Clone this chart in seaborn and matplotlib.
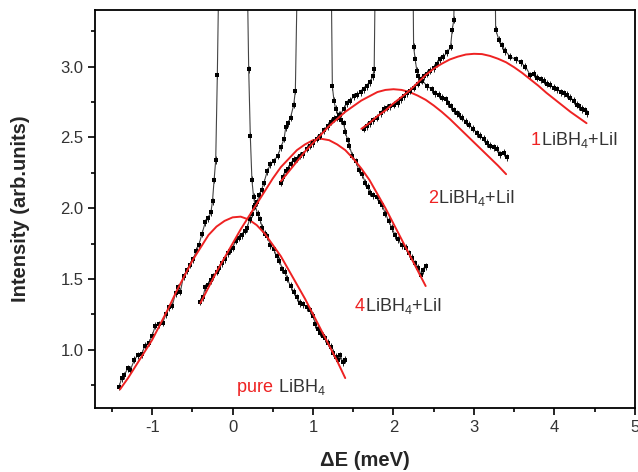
import numpy as np
import pandas as pd
import seaborn as sns
import matplotlib
matplotlib.use("Agg")
import matplotlib.pyplot as plt

sns.set_style("ticks")
plt.rcParams['font.family'] = ['Liberation Sans', 'DejaVu Sans']
plt.rcParams['mathtext.fontset'] = 'custom'
plt.rcParams['mathtext.rm'] = 'Liberation Sans'

# measured spectra (black points); the big values are the elastic peak, off scale
pure_x = [-1.41, -1.38, -1.35, -1.30, -1.27, -1.22, -1.18, -1.13, -1.09, -1.04, -1.00, -0.96,
          -0.92, -0.87, -0.83, -0.79, -0.75, -0.71, -0.68, -0.65, -0.61, -0.57, -0.53, -0.49,
          -0.45, -0.42, -0.38, -0.34, -0.30, -0.27, -0.25, -0.23, -0.21, -0.19, -0.15, 0.00,
          0.16, 0.20, 0.22, 0.24, 0.26, 0.28, 0.31, 0.34, 0.37, 0.40, 0.43, 0.47, 0.51, 0.55,
          0.58, 0.62, 0.65, 0.68, 0.72, 0.76, 0.80, 0.84, 0.88, 0.92, 0.96, 1.00, 1.03, 1.06,
          1.09, 1.12, 1.15, 1.18, 1.22, 1.25, 1.28, 1.31, 1.34, 1.37, 1.40]
pure_y = [0.74, 0.80, 0.82, 0.87, 0.86, 0.93, 0.96, 0.97, 1.03, 1.05, 1.10, 1.17,
          1.18, 1.19, 1.25, 1.30, 1.31, 1.40, 1.44, 1.41, 1.52, 1.56, 1.60, 1.64,
          1.70, 1.74, 1.82, 1.90, 1.93, 1.97, 2.05, 2.20, 2.34, 2.94, 4.5, 20.0,
          4.5, 2.98, 2.51, 2.20, 2.08, 2.02, 1.96, 1.92, 1.86, 1.82, 1.80, 1.74, 1.71, 1.66,
          1.63, 1.57, 1.55, 1.50, 1.45, 1.41, 1.37, 1.33, 1.32, 1.30, 1.28, 1.24, 1.18, 1.15,
          1.12, 1.10, 1.08, 1.05, 1.02, 0.98, 0.95, 0.93, 0.96, 0.91, 0.93]

r4_x = [-0.40, -0.37, -0.34, -0.30, -0.27, -0.24, -0.20, -0.17, -0.13, -0.10, -0.06, -0.03,
        0.00, 0.04, 0.08, 0.12, 0.15, 0.18, 0.21, 0.24, 0.27, 0.30, 0.33, 0.36, 0.39, 0.43,
        0.47, 0.51, 0.56, 0.60, 0.64, 0.66, 0.69, 0.72, 0.76, 0.78, 0.83, 1.02, 1.21, 1.24,
        1.26, 1.28, 1.32, 1.35, 1.38, 1.40, 1.43, 1.45, 1.49, 1.53, 1.57, 1.61, 1.65, 1.68,
        1.71, 1.75, 1.80, 1.83, 1.86, 1.90, 1.94, 1.98, 2.02, 2.06, 2.10, 2.15, 2.19, 2.23,
        2.27, 2.31, 2.34, 2.37, 2.41]
r4_y = [1.34, 1.37, 1.44, 1.46, 1.49, 1.52, 1.55, 1.58, 1.61, 1.64, 1.68, 1.70,
        1.72, 1.77, 1.79, 1.81, 1.84, 1.86, 1.92, 1.96, 2.01, 2.04, 2.09, 2.13, 2.18, 2.26,
        2.31, 2.33, 2.37, 2.43, 2.49, 2.57, 2.60, 2.64, 2.73, 2.83, 4.5, 20.0, 4.5, 2.86,
        2.76, 2.70, 2.66, 2.62, 2.60, 2.54, 2.48, 2.44, 2.37, 2.33, 2.27, 2.24, 2.18, 2.15,
        2.11, 2.09, 2.08, 2.04, 2.02, 1.96, 1.91, 1.86, 1.81, 1.78, 1.74, 1.72, 1.68, 1.65,
        1.61, 1.58, 1.53, 1.56, 1.59]

r2_x = [0.60, 0.63, 0.66, 0.69, 0.72, 0.76, 0.80, 0.84, 0.88, 0.92, 0.96, 1.00, 1.05, 1.09,
        1.13, 1.18, 1.22, 1.26, 1.30, 1.34, 1.38, 1.42, 1.46, 1.51, 1.55, 1.59, 1.63, 1.67,
        1.71, 1.74, 1.76, 1.79, 2.00, 2.23, 2.25, 2.27, 2.29, 2.31, 2.36, 2.42, 2.48, 2.52,
        2.56, 2.60, 2.65, 2.68, 2.71, 2.75, 2.79, 2.82, 2.85, 2.90, 2.94, 2.99, 3.04, 3.08,
        3.12, 3.16, 3.20, 3.25, 3.29, 3.33, 3.37, 3.41]
r2_y = [2.18, 2.22, 2.26, 2.28, 2.31, 2.34, 2.35, 2.37, 2.38, 2.42, 2.44, 2.46, 2.49, 2.51,
        2.55, 2.58, 2.61, 2.63, 2.64, 2.66, 2.70, 2.74, 2.76, 2.79, 2.80, 2.82, 2.84, 2.86,
        2.89, 2.93, 2.98, 4.5, 20.0, 4.5, 3.14, 3.05, 2.97, 2.93, 2.90, 2.86, 2.84, 2.81,
        2.80, 2.78, 2.77, 2.74, 2.72, 2.69, 2.67, 2.66, 2.64, 2.61, 2.59, 2.56, 2.53, 2.51,
        2.49, 2.46, 2.44, 2.43, 2.42, 2.38, 2.39, 2.36]

r1_x = [1.63, 1.67, 1.71, 1.75, 1.80, 1.84, 1.88, 1.92, 1.96, 2.01, 2.05, 2.09, 2.13, 2.17,
        2.21, 2.25, 2.30, 2.34, 2.38, 2.42, 2.46, 2.50, 2.54, 2.58, 2.62, 2.67, 2.71, 2.73,
        2.75, 2.78, 3.00, 3.25, 3.27, 3.31, 3.35, 3.39, 3.45, 3.52, 3.58, 3.64, 3.70, 3.75,
        3.79, 3.83, 3.87, 3.91, 3.95, 3.99, 4.03, 4.08, 4.12, 4.16, 4.20, 4.24, 4.28, 4.31,
        4.34, 4.38, 4.41]
r1_y = [2.56, 2.58, 2.60, 2.62, 2.64, 2.67, 2.70, 2.71, 2.72, 2.73, 2.74, 2.77, 2.79, 2.81,
        2.83, 2.85, 2.88, 2.91, 2.93, 2.95, 2.97, 2.99, 3.02, 3.05, 3.07, 3.10, 3.14, 3.26,
        3.33, 4.5, 20.0, 4.5, 3.26, 3.19, 3.15, 3.11, 3.07, 3.05, 3.03, 3.00, 2.94, 2.95,
        2.92, 2.91, 2.90, 2.88, 2.87, 2.85, 2.84, 2.82, 2.81, 2.80, 2.78, 2.76, 2.73, 2.72,
        2.70, 2.69, 2.67]

err = 0.025

# fitted curves (red), read every 0.1 meV
fit_pure_x = [-1.4, -1.3, -1.2, -1.1, -1.0, -0.9, -0.8, -0.7, -0.6, -0.5, -0.4, -0.3, -0.2, -0.1,
              0.0, 0.1, 0.2, 0.3, 0.4, 0.5, 0.6, 0.7, 0.8, 0.9, 1.0, 1.1, 1.2, 1.3, 1.4]
fit_pure_y = [0.72, 0.80, 0.89, 0.98, 1.07, 1.18, 1.29, 1.41, 1.52, 1.63, 1.72, 1.81, 1.87, 1.91,
              1.935, 1.94, 1.92, 1.88, 1.82, 1.74, 1.66, 1.56, 1.46, 1.36, 1.25, 1.14, 1.03, 0.92, 0.80]
fit4_x = [-0.4, -0.3, -0.2, -0.1, 0.0, 0.1, 0.2, 0.3, 0.4, 0.5, 0.6, 0.7, 0.8, 0.9,
          1.0, 1.1, 1.2, 1.3, 1.4, 1.5, 1.6, 1.7, 1.8, 1.9, 2.0, 2.1, 2.2, 2.3, 2.4]
fit4_y = [1.33, 1.44, 1.55, 1.65, 1.75, 1.85, 1.94, 2.03, 2.12, 2.21, 2.29, 2.35, 2.41, 2.45,
          2.48, 2.49, 2.48, 2.45, 2.41, 2.35, 2.28, 2.20, 2.10, 2.00, 1.89, 1.78, 1.67, 1.56, 1.45]
fit2_x = [0.6, 0.7, 0.8, 0.9, 1.0, 1.1, 1.2, 1.3, 1.4, 1.5, 1.6, 1.7, 1.8, 1.9,
          2.0, 2.1, 2.2, 2.3, 2.4, 2.5, 2.6, 2.7, 2.8, 2.9, 3.0, 3.1, 3.2, 3.3, 3.4]
fit2_y = [2.19, 2.26, 2.33, 2.40, 2.46, 2.52, 2.58, 2.63, 2.68, 2.72, 2.76, 2.79, 2.82, 2.835,
          2.84, 2.835, 2.82, 2.795, 2.765, 2.725, 2.68, 2.63, 2.575, 2.52, 2.465, 2.41, 2.355, 2.30, 2.24]
fit1_x = [1.6, 1.7, 1.8, 1.9, 2.0, 2.1, 2.2, 2.3, 2.4, 2.5, 2.6, 2.7, 2.8, 2.9,
          3.0, 3.1, 3.2, 3.3, 3.4, 3.5, 3.6, 3.7, 3.8, 3.9, 4.0, 4.1, 4.2, 4.3, 4.4]
fit1_y = [2.56, 2.60, 2.65, 2.69, 2.74, 2.785, 2.83, 2.885, 2.94, 2.985, 3.02, 3.05, 3.07, 3.085,
          3.09, 3.088, 3.075, 3.055, 3.03, 2.995, 2.955, 2.91, 2.865, 2.815, 2.77, 2.725, 2.68, 2.64, 2.60]

labels = ["pure ", "4", "2", "1"]
label_pos = [(0.06, 0.705), (1.52, 1.275), (2.43, 2.035), (3.71, 2.445)]

red = '#ee2222'
dark = '#333333'

fig = plt.figure(figsize=(6.38, 4.72), dpi=100)
ax = fig.add_axes([0.149, 0.136, 0.846, 0.843])

data = [(pure_x, pure_y), (r4_x, r4_y), (r2_x, r2_y), (r1_x, r1_y)]
fits = [(fit_pure_x, fit_pure_y), (fit4_x, fit4_y), (fit2_x, fit2_y), (fit1_x, fit1_y)]

for (x, y), (fx, fy) in zip(data, fits):
    ax.errorbar(x, y, yerr=err, fmt='none', ecolor='black', elinewidth=0.6, capsize=0)
    sns.lineplot(x=x, y=y, ax=ax, color='#444444', lw=0.8, marker='s', markersize=2.6,
                 markeredgewidth=0, markerfacecolor='black', estimator=None, sort=False)
    sns.lineplot(x=fx, y=fy, ax=ax, color=red, lw=1.4, estimator=None, sort=False)

ax.set_xlim(-1.71, 5.0)
ax.set_ylim(0.59, 3.40)

renderer = fig.canvas.get_renderer()
for lab, (lx, ly) in zip(labels, label_pos):
    t = ax.text(lx, ly, lab, color=red, fontsize=13, va='baseline', ha='left')
    bb = t.get_window_extent(renderer)
    x_end = ax.transData.inverted().transform((bb.x1, bb.y0))[0]
    rest = "LiBH$_\\mathrm{4}$" if lab == "pure " else "LiBH$_\\mathrm{4}$+LiI"
    ax.text(x_end, ly, rest, color=dark, fontsize=13, va='baseline', ha='left')

ax.set_xticks([-1, 0, 1, 2, 3, 4, 5])
ax.set_xticks(np.arange(-1.5, 5.0, 1.0), minor=True)
ax.set_yticks([1.0, 1.5, 2.0, 2.5, 3.0])
ax.set_yticks([0.75, 1.25, 1.75, 2.25, 2.75, 3.25], minor=True)
ax.set_xticklabels(['-1', '0', '1', '2', '3', '4', '5'])
ax.tick_params(which='major', direction='out', length=5, width=1.2, labelsize=12,
               labelcolor=dark, color='black')
ax.tick_params(which='minor', direction='out', length=3, width=1.2, color='black')
for s in ax.spines.values():
    s.set_linewidth(1.3)
    s.set_color('black')
    s.set_visible(True)

ax.set_xlabel("ΔE (meV)", fontsize=14.5, fontweight='bold', labelpad=12)
ax.set_ylabel("Intensity (arb.units)", fontsize=14.5, fontweight='bold', labelpad=22)

fig.savefig("out.png", dpi=100)
